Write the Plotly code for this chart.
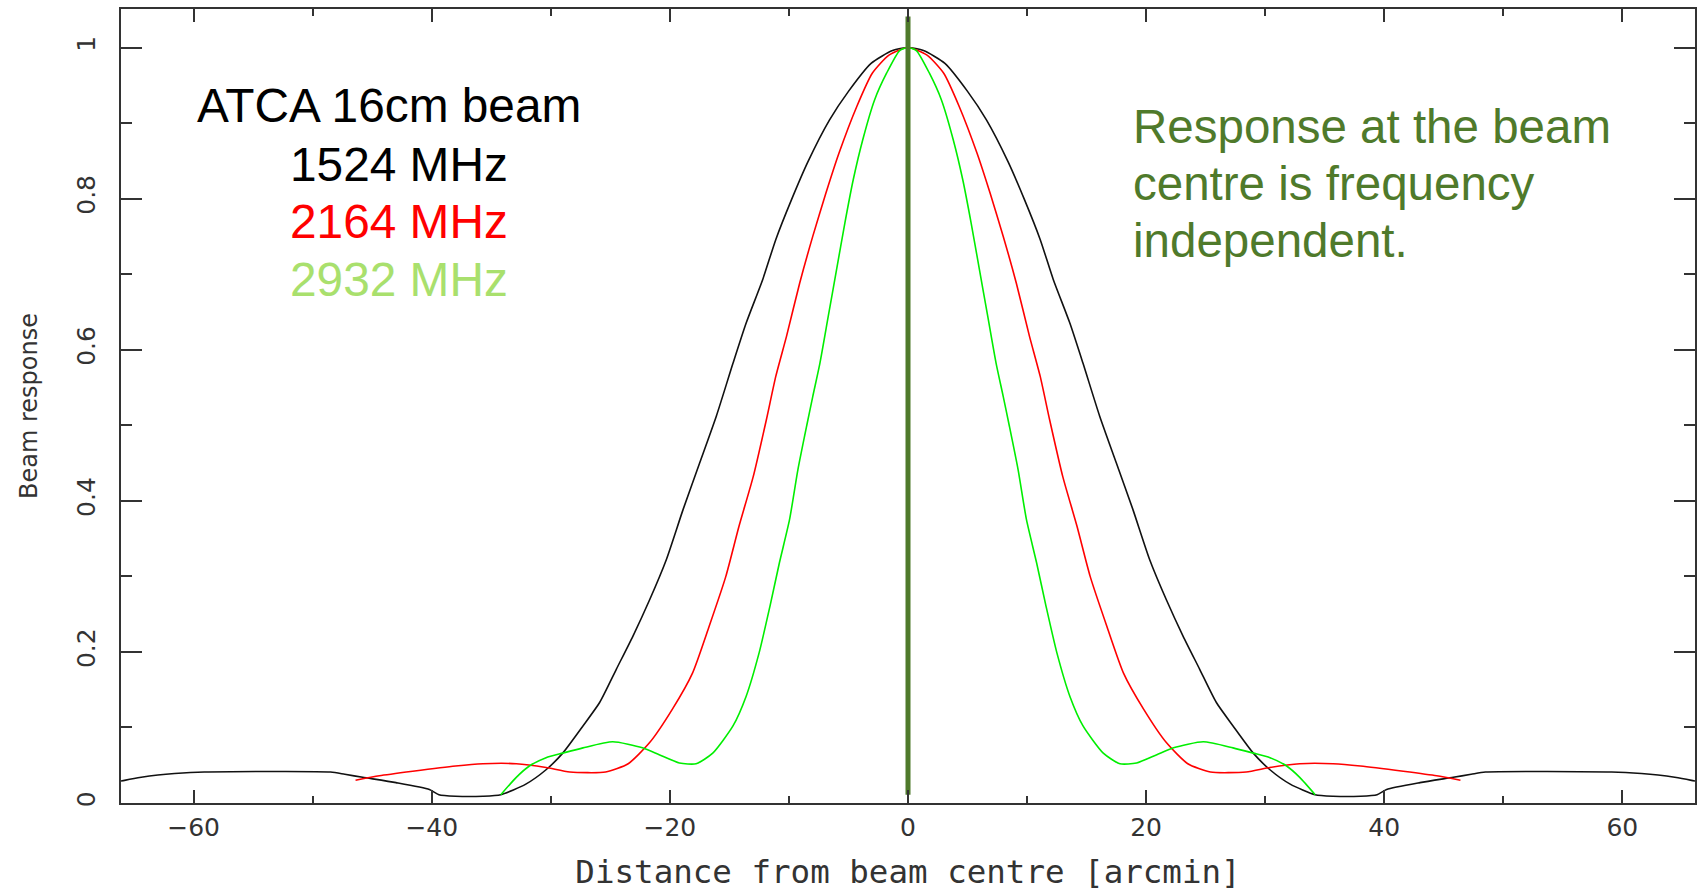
import plotly.graph_objects as go

# ---- data (distance in arcmin, normalised beam response) ----
black_x = [-66.1, -65.8, -64.4, -63.0, -61.6, -59.1, -48.5, -47.3, -45.8, -43.0, -40.2, -39.4,
           -38.0, -35.7, -34.2, -32.1, -30.4, -29.0, -27.3, -25.9, -24.5, -23.1, -21.7, -20.3,
           -18.9, -17.5, -16.1, -14.7, -13.6, -12.2, -11.1, -9.8, -8.4, -6.6, -5.0, -3.1, -1.3,
           0.0,
           1.3, 3.1, 5.0, 6.6, 8.4, 9.8, 11.1, 12.2, 13.6, 14.7, 16.1, 17.5, 18.9, 20.3, 21.7,
           23.1, 24.5, 25.9, 27.3, 29.0, 30.4, 32.1, 34.2, 35.7, 38.0, 39.4, 40.2, 43.0, 45.8,
           47.3, 48.5, 59.1, 61.6, 63.0, 64.4, 65.8, 66.1]
black_y = [0.029, 0.030, 0.034, 0.037, 0.039, 0.041, 0.041, 0.038, 0.034, 0.027, 0.018, 0.011,
           0.009, 0.009, 0.011, 0.025, 0.044, 0.066, 0.102, 0.133, 0.177, 0.221, 0.269, 0.322,
           0.388, 0.450, 0.512, 0.582, 0.635, 0.693, 0.746, 0.798, 0.849, 0.904, 0.942, 0.979, 0.996,
           1.000,
           0.996, 0.979, 0.942, 0.904, 0.849, 0.798, 0.746, 0.693, 0.635, 0.582, 0.512, 0.450, 0.388,
           0.322, 0.269, 0.221, 0.177, 0.133, 0.102, 0.066, 0.044, 0.025, 0.011, 0.009, 0.009, 0.011,
           0.018, 0.027, 0.034, 0.038, 0.041, 0.041, 0.039, 0.037, 0.034, 0.030, 0.029]

red_x = [-46.4, -44.4, -41.6, -38.0, -35.7, -32.9, -30.4, -28.4, -25.4, -23.5, -21.7, -19.8,
         -18.1, -16.7, -15.3, -14.2, -13.0, -11.9, -11.1, -10.2, -9.1, -8.0, -6.9, -5.8, -4.3,
         -3.0, -1.6,
         0.0,
         1.6, 3.0, 4.3, 5.8, 6.9, 8.0, 9.1, 10.2, 11.1, 11.9, 13.0, 14.2, 15.3, 16.7, 18.1,
         19.8, 21.7, 23.5, 25.4, 28.4, 30.4, 32.9, 35.7, 38.0, 41.6, 44.4, 46.4]
red_y = [0.030, 0.036, 0.042, 0.049, 0.052, 0.052, 0.047, 0.041, 0.041, 0.052, 0.080, 0.124,
         0.172, 0.234, 0.300, 0.366, 0.432, 0.507, 0.565, 0.618, 0.688, 0.750, 0.807, 0.860, 0.922,
         0.966, 0.990,
         1.000,
         0.990, 0.966, 0.922, 0.860, 0.807, 0.750, 0.688, 0.618, 0.565, 0.507, 0.432, 0.366, 0.300,
         0.234, 0.172, 0.124, 0.080, 0.052, 0.041, 0.041, 0.047, 0.052, 0.052, 0.049, 0.042, 0.036,
         0.030]

green_x = [-34.2, -32.9, -31.8, -30.4, -29.0, -27.3, -24.8, -22.3, -20.9, -19.2, -17.8, -16.4,
           -14.7, -13.6, -12.5, -11.6, -10.8, -9.95, -9.25, -8.5, -8.0, -7.4, -6.7, -6.0, -5.3,
           -4.6, -3.8, -2.8, -1.8, -0.7,
           0.0,
           0.7, 1.8, 2.8, 3.8, 4.6, 5.3, 6.0, 6.7, 7.4, 8.0, 8.5, 9.25, 9.95, 10.8, 11.6, 12.5,
           13.6, 14.7, 16.4, 17.8, 19.2, 20.9, 22.3, 24.8, 27.3, 29.0, 30.4, 31.8, 32.9, 34.2]
green_y = [0.011, 0.034, 0.049, 0.060, 0.066, 0.073, 0.081, 0.073, 0.064, 0.053, 0.052, 0.066,
           0.102, 0.141, 0.199, 0.260, 0.318, 0.375, 0.441, 0.500, 0.538, 0.582, 0.644, 0.706, 0.768,
           0.825, 0.878, 0.931, 0.966, 0.996,
           1.000,
           0.996, 0.966, 0.931, 0.878, 0.825, 0.768, 0.706, 0.644, 0.582, 0.538, 0.500, 0.441, 0.375,
           0.318, 0.260, 0.199, 0.141, 0.102, 0.066, 0.052, 0.053, 0.064, 0.073, 0.081, 0.073, 0.066,
           0.060, 0.049, 0.034, 0.011]

centre_x = [0.0, 0.0]
centre_y = [0.011, 1.041]

legend_lines = ["ATCA 16cm beam", "1524 MHz", "2164 MHz", "2932 MHz"]
note_lines = ["Response at the beam", "centre is frequency", "independent."]

x_ticks = [-60, -40, -20, 0, 20, 40, 60]
y_ticks = [0, 0.2, 0.4, 0.6, 0.8, 1]

# ---- styles ----
AX = "#333333"
OLIVE = "#4f7a2b"

fig = go.Figure()
curve_line = dict(width=1.6, shape="spline", smoothing=0.6)
fig.add_trace(go.Scatter(x=black_x, y=black_y, mode="lines",
                         line=dict(color="#111111", **curve_line), showlegend=False))
fig.add_trace(go.Scatter(x=red_x, y=red_y, mode="lines",
                         line=dict(color="#ff0000", **curve_line), showlegend=False))
fig.add_trace(go.Scatter(x=green_x, y=green_y, mode="lines",
                         line=dict(color="#00ee00", **curve_line), showlegend=False))
fig.add_trace(go.Scatter(x=centre_x, y=centre_y, mode="lines",
                         line=dict(color=OLIVE, width=5), showlegend=False))

tick_font = dict(family="DejaVu Sans", size=25, color=AX)

fig.update_xaxes(
    range=[-66.1, 66.1], tickvals=x_ticks, automargin=False,
    ticktext=[("\u2212" + str(-v)) if v < 0 else str(v) for v in x_ticks],
    ticks="inside", ticklen=13, tickwidth=2, tickcolor=AX,
    minor=dict(dtick=10, tick0=0, ticks="inside", ticklen=7, tickwidth=2, tickcolor=AX),
    showline=True, linecolor=AX, linewidth=2, mirror="allticks",
    showgrid=False, zeroline=False, tickfont=tick_font, ticklabelstandoff=1,
    title=dict(text="Distance from beam centre [arcmin]",
               font=dict(family="DejaVu Sans Mono", size=32.5, color=AX), standoff=26),
)
fig.update_yaxes(
    range=[0, 1.051], tickvals=y_ticks, ticktext=["0", "0.2", "0.4", "0.6", "0.8", "1"],
    automargin=False,
    ticks="inside", ticklen=21, tickwidth=2, tickcolor=AX,
    minor=dict(dtick=0.1, tick0=0, ticks="inside", ticklen=11, tickwidth=2, tickcolor=AX),
    showline=True, linecolor=AX, linewidth=2, mirror="allticks",
    showgrid=False, zeroline=False, tickfont=tick_font, tickangle=-90, ticklabelstandoff=14,
    title=dict(text="Beam response", font=dict(family="DejaVu Sans", size=24, color=AX), standoff=28),
)

ann_font = "Liberation Sans, Arial, sans-serif"
ann = []
left_colors = ["#000000", "#000000", "#ff0000", "#a9e06d"]
left_x = [-59.9, -52.1, -52.1, -52.1]
left_y = [0.9228, 0.8452, 0.7692, 0.6932]
for t, c, xx, yy in zip(legend_lines, left_colors, left_x, left_y):
    ann.append(dict(x=xx, y=yy, xref="x", yref="y", text=t, showarrow=False,
                    xanchor="left", yanchor="middle",
                    font=dict(family=ann_font, size=47.8, color=c)))
note_y = [0.8954, 0.8194, 0.7449]
for t, yy in zip(note_lines, note_y):
    ann.append(dict(x=18.7, y=yy, xref="x", yref="y", text=t, showarrow=False,
                    xanchor="left", yanchor="middle",
                    font=dict(family=ann_font, size=47.5, color=OLIVE)))

fig.update_layout(
    width=1698, height=891, autosize=False,
    margin=dict(l=121, r=3, t=9, b=88),
    paper_bgcolor="white", plot_bgcolor="white",
    annotations=ann, showlegend=False,
)

fig.write_html("out.html", config={"displayModeBar": False})
